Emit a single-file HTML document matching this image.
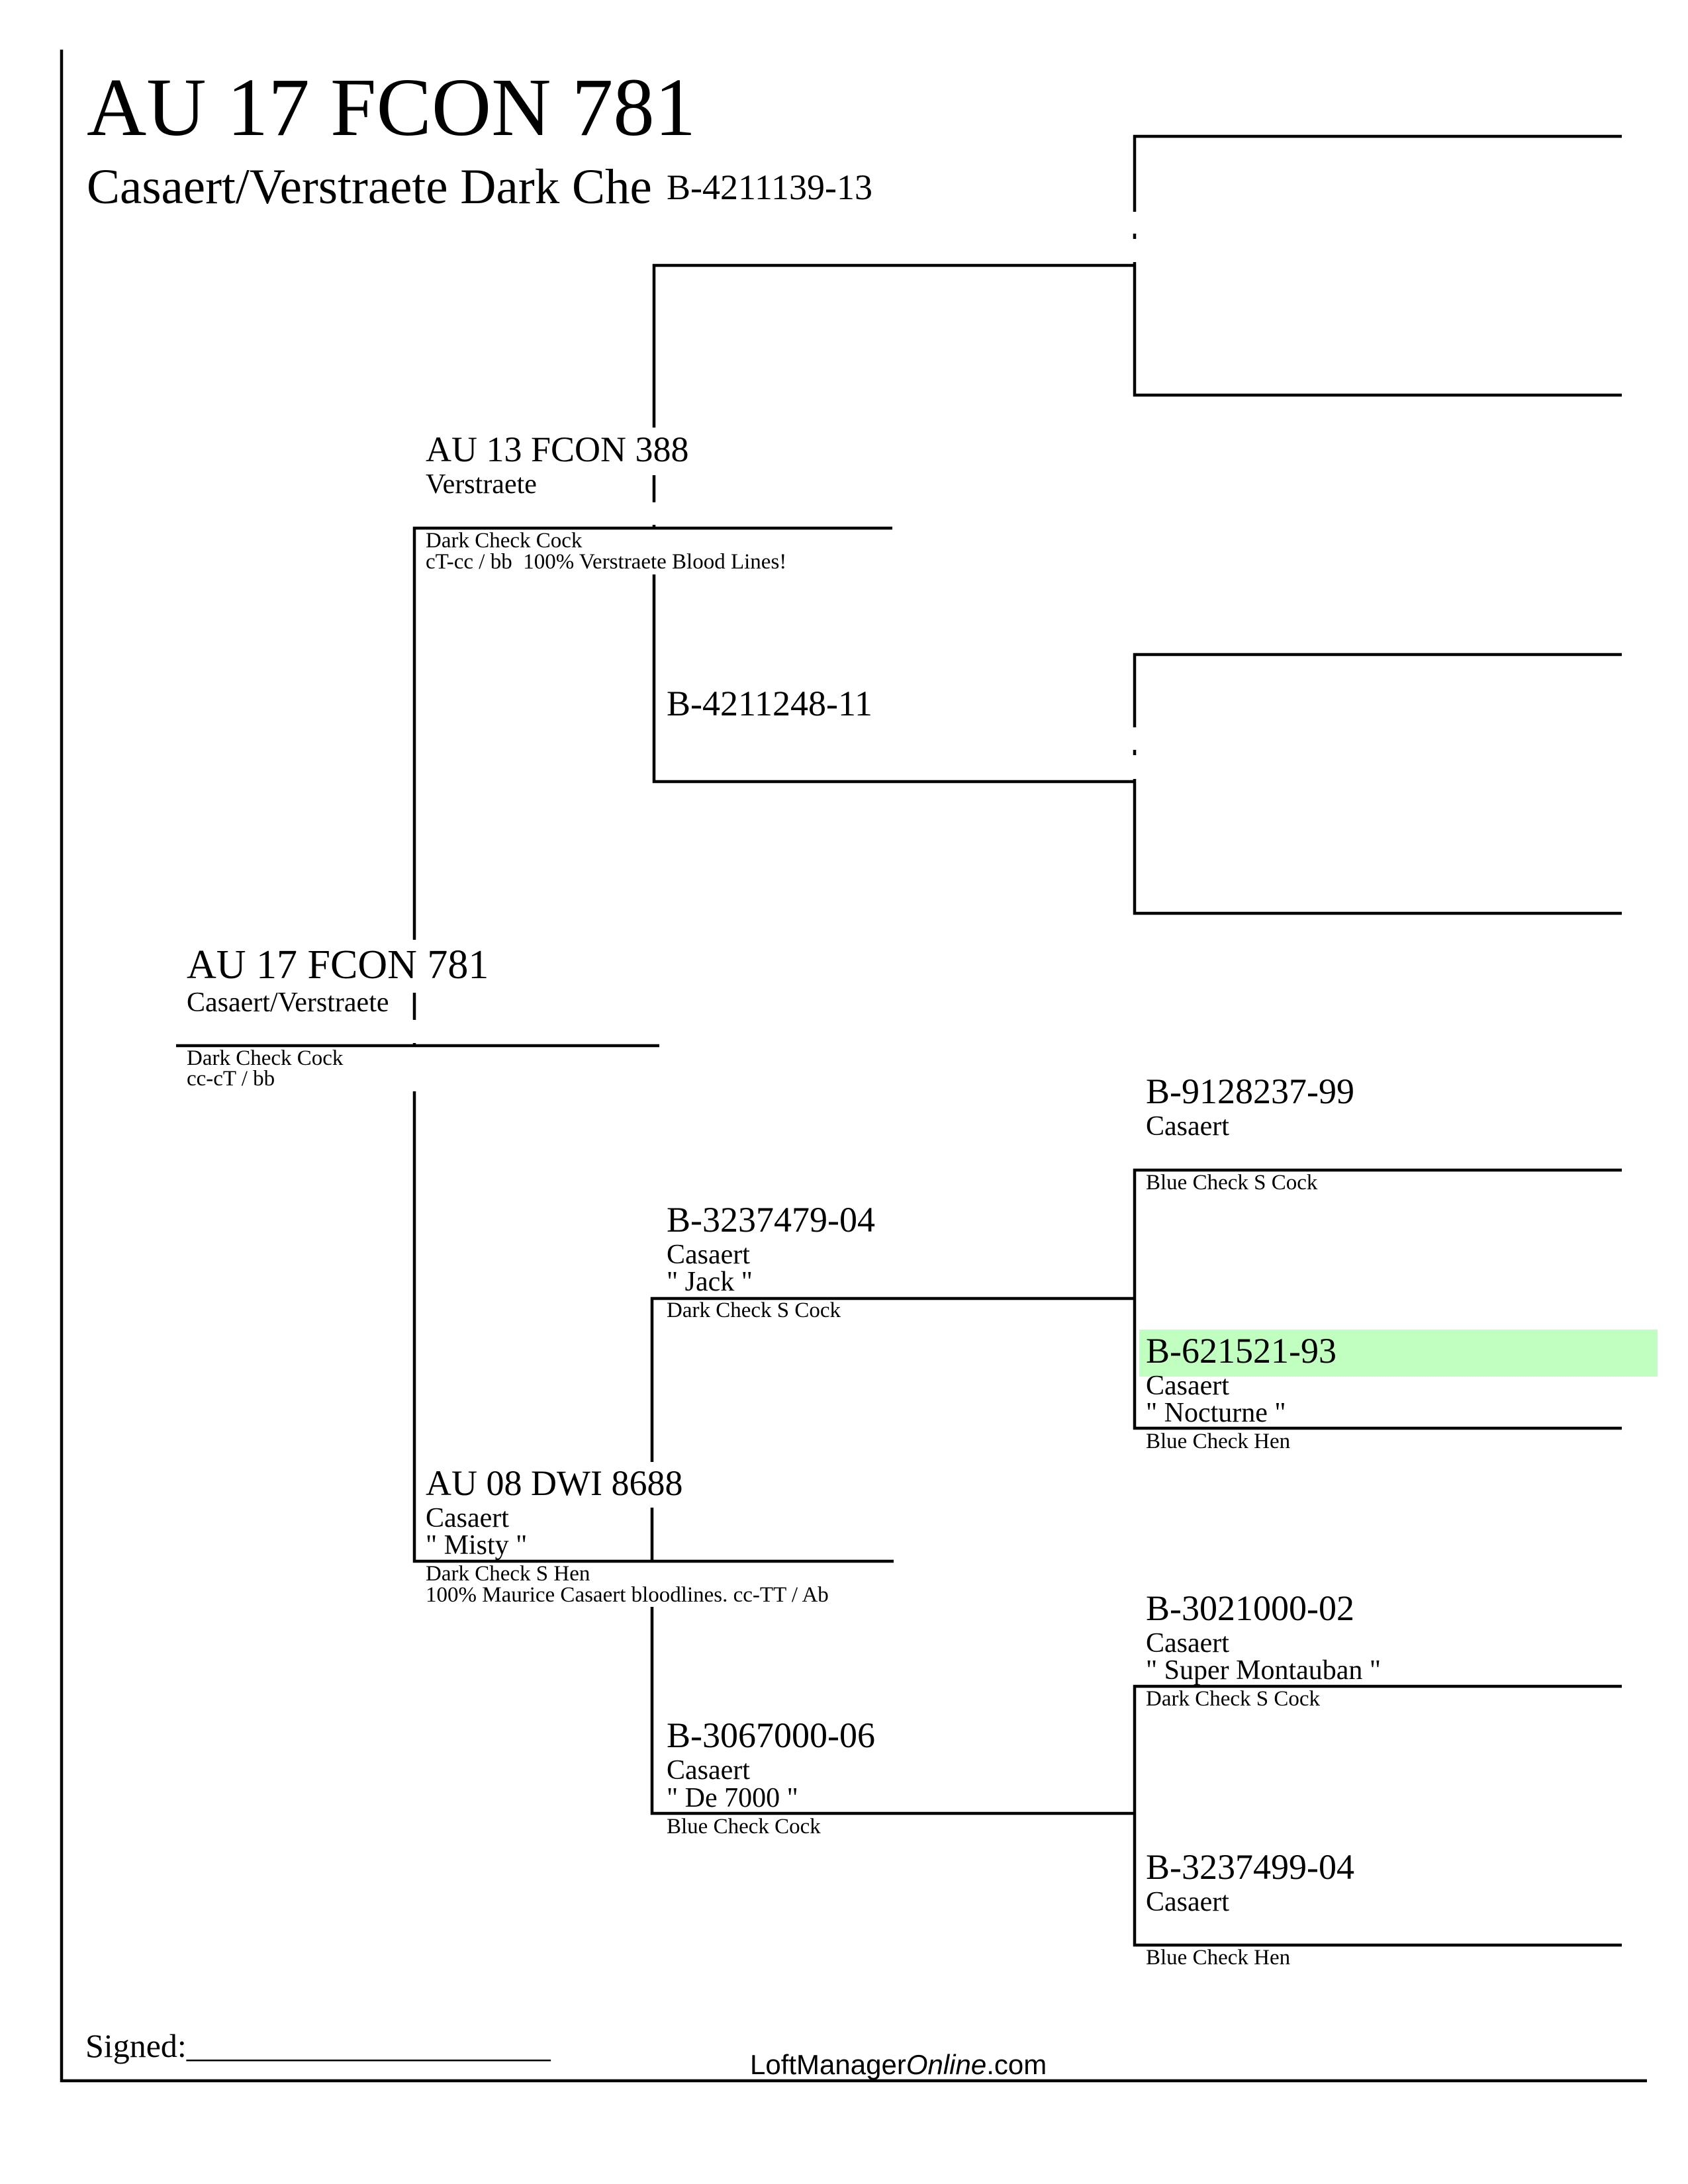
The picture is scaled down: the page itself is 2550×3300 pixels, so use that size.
<!DOCTYPE html>
<html>
<head>
<meta charset="utf-8">
<style>
  html, body { margin: 0; padding: 0; background: #ffffff; }
  svg { display: block; }
  text { font-family: "Liberation Serif", "Times New Roman", serif; fill: #000; white-space: pre; }
  .sans { font-family: "Liberation Sans", Arial, sans-serif; }
</style>
</head>
<body>
<svg xmlns="http://www.w3.org/2000/svg" xml:space="preserve" width="2550" height="3300" viewBox="0 0 2550 3300">
  <rect x="0" y="0" width="2550" height="3300" fill="#ffffff"/>

  <!-- highlight -->
  <rect x="1721" y="2009" width="783" height="71" fill="#c0ffc0"/>

  <g fill="none" stroke="#000" stroke-width="4.5" stroke-linejoin="miter" stroke-linecap="butt">
    <!-- page border -->
    <path d="M93 75 V3144 H2488"/>

    <!-- generation 3 boxes -->
    <path d="M2450 206 H1714 V320"/>
    <path d="M1714 353 V361"/>
    <path d="M1714 396 V597 H2450"/>

    <path d="M2450 989 H1714 V1099"/>
    <path d="M1714 1133 V1141"/>
    <path d="M1714 1177 V1380 H2450"/>

    <path d="M2450 1768 H1714 V2158 H2450"/>
    <path d="M2450 2548 H1714 V2939 H2450"/>

    <!-- generation 2 (sire side) -->
    <path d="M1714 401 H988 V646"/>
    <path d="M988 718 V759"/>
    <path d="M988 793 V799"/>
    <path d="M988 868 V1181 H1714"/>

    <!-- sire line and gen1 vertical -->
    <path d="M1348 798 H626 V1420"/>
    <path d="M626 1500 V1541"/>
    <path d="M626 1576 V1582"/>
    <path d="M626 1649 V2359 H1350"/>

    <!-- subject line -->
    <path d="M266 1580 H996"/>

    <!-- generation 2 (dam side) -->
    <path d="M1714 1962 H985 V2209"/>
    <path d="M985 2278 V2361"/>
    <path d="M985 2428 V2740 H1714"/>
  </g>

  <!-- Header -->
  <text x="131" y="204" font-size="125">AU 17 FCON 781</text>
  <text x="131" y="307" font-size="75">Casaert/Verstraete Dark Che</text>
  <text x="1007" y="301" font-size="54">B-4211139-13</text>

  <!-- Sire -->
  <text x="643" y="697" font-size="54">AU 13 FCON 388</text>
  <text x="643" y="745" font-size="42">Verstraete</text>
  <text x="643" y="827" font-size="33">Dark Check Cock</text>
  <text x="643" y="859" font-size="33">cT-cc / bb  100% Verstraete Blood Lines!</text>

  <text x="1007" y="1081" font-size="54">B-4211248-11</text>

  <!-- Subject -->
  <text x="282" y="1478" font-size="62">AU 17 FCON 781</text>
  <text x="282" y="1528" font-size="42">Casaert/Verstraete</text>
  <text x="282" y="1609" font-size="33">Dark Check Cock</text>
  <text x="282" y="1640" font-size="33">cc-cT / bb</text>

  <!-- Dam side gen 3 upper -->
  <text x="1731" y="1667" font-size="54">B-9128237-99</text>
  <text x="1731" y="1715" font-size="42">Casaert</text>
  <text x="1731" y="1797" font-size="33">Blue Check S Cock</text>

  <!-- Dam's sire -->
  <text x="1007" y="1861" font-size="54">B-3237479-04</text>
  <text x="1007" y="1909" font-size="42">Casaert</text>
  <text x="1007" y="1950" font-size="42">" Jack "</text>
  <text x="1007" y="1990" font-size="33">Dark Check S Cock</text>

  <text x="1731" y="2059" font-size="54">B-621521-93</text>
  <text x="1731" y="2107" font-size="42">Casaert</text>
  <text x="1731" y="2148" font-size="42">" Nocturne "</text>
  <text x="1731" y="2188" font-size="33">Blue Check Hen</text>

  <!-- Dam -->
  <text x="643" y="2259" font-size="54">AU 08 DWI 8688</text>
  <text x="643" y="2307" font-size="42">Casaert</text>
  <text x="643" y="2348" font-size="42">" Misty "</text>
  <text x="643" y="2388" font-size="33">Dark Check S Hen</text>
  <text x="643" y="2420" font-size="33">100% Maurice Casaert bloodlines. cc-TT / Ab</text>

  <text x="1731" y="2448" font-size="54">B-3021000-02</text>
  <text x="1731" y="2496" font-size="42">Casaert</text>
  <text x="1731" y="2537" font-size="42">" Super Montauban "</text>
  <text x="1731" y="2577" font-size="33">Dark Check S Cock</text>

  <!-- Dam's dam -->
  <text x="1007" y="2640" font-size="54">B-3067000-06</text>
  <text x="1007" y="2688" font-size="42">Casaert</text>
  <text x="1007" y="2730" font-size="42">" De 7000 "</text>
  <text x="1007" y="2770" font-size="33">Blue Check Cock</text>

  <text x="1731" y="2839" font-size="54">B-3237499-04</text>
  <text x="1731" y="2887" font-size="42">Casaert</text>
  <text x="1731" y="2968" font-size="33">Blue Check Hen</text>

  <!-- Footer -->
  <text x="129" y="3108" font-size="50">Signed:______________________</text>
  <text class="sans" x="1133" y="3134" font-size="42">LoftManager<tspan font-style="italic">Online</tspan>.com</text>
</svg>
</body>
</html>
